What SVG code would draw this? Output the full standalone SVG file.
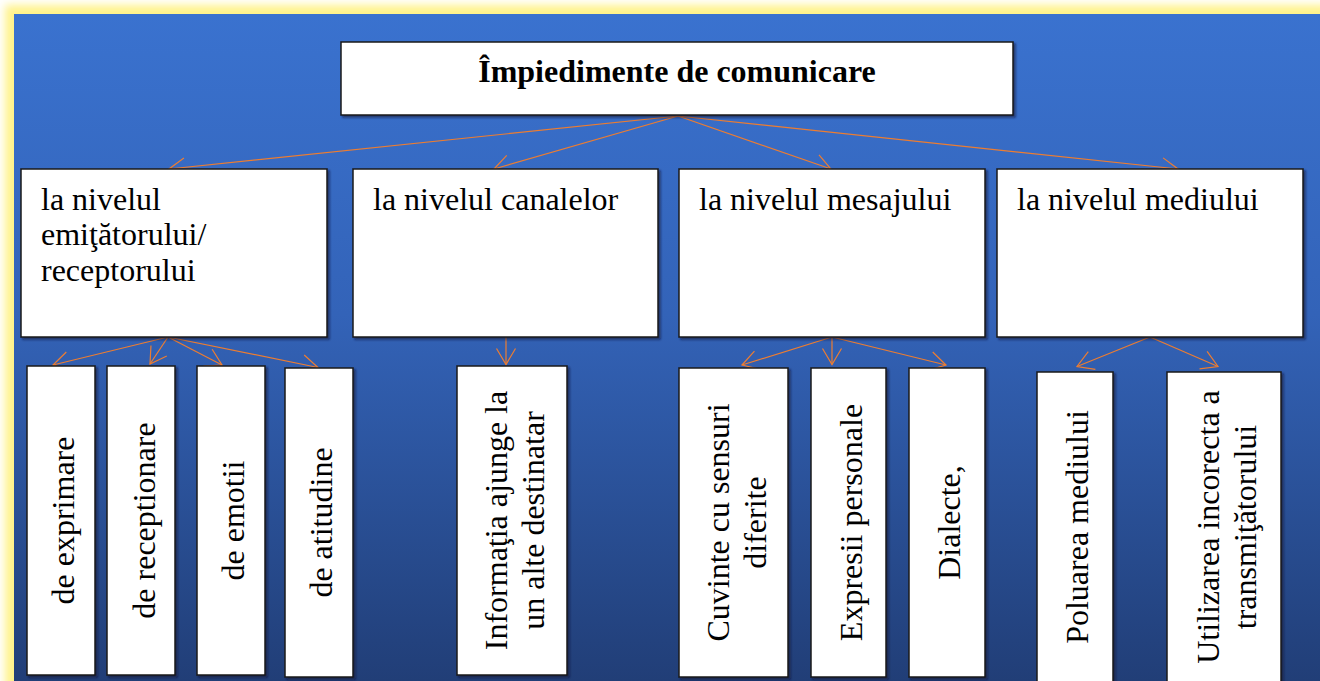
<svg xmlns="http://www.w3.org/2000/svg" width="1320" height="681" viewBox="0 0 1320 681">
<defs>
<linearGradient id="bg" x1="0" y1="14" x2="0" y2="681" gradientUnits="userSpaceOnUse">
<stop offset="0" stop-color="#3A72CF"/>
<stop offset="0.45" stop-color="#3363B8"/>
<stop offset="1" stop-color="#213E77"/>
</linearGradient>
<filter id="glow" x="-0.1" y="-0.1" width="1.2" height="1.2">
<feGaussianBlur stdDeviation="4"/>
</filter>
<filter id="sh" x="-0.1" y="-0.1" width="1.3" height="1.3">
<feDropShadow dx="2" dy="2" stdDeviation="1" flood-color="#0a1530" flood-opacity="0.6"/>
</filter>
<marker id="arr" markerUnits="userSpaceOnUse" viewBox="-20 -12 22 24" refX="0" refY="0" markerWidth="22" markerHeight="24" orient="auto">
<path d="M-16,-9.5 L0,0 L-16,9.5" fill="none" stroke="#ED7D31" stroke-width="1.2"/>
</marker>
</defs>
<style>
.box{fill:#FFFFFF;stroke:#1A1A1A;stroke-width:1.5;filter:url(#sh)}
.t{font-family:"Liberation Serif","Times New Roman",serif;font-size:32px;fill:#000}
.vt{font-family:"Liberation Serif","Times New Roman",serif;font-size:32px;fill:#000;text-anchor:middle}
.title{font-family:"Liberation Serif","Times New Roman",serif;font-size:32px;font-weight:bold;fill:#000;text-anchor:middle}
.c{fill:none;stroke:#ED7D31;stroke-width:1.2;marker-end:url(#arr)}
</style>
<rect x="0" y="0" width="1320" height="681" fill="#FFFFFF"/>
<rect x="5" y="5" width="1400" height="800" fill="#FFF38A" filter="url(#glow)"/>
<rect x="14" y="14" width="1306" height="667" fill="url(#bg)"/>

<g id="connectors">
<line class="c" x1="678" y1="116" x2="169" y2="169"/>
<line class="c" x1="678" y1="116" x2="494" y2="169"/>
<line class="c" x1="678" y1="116" x2="831" y2="169"/>
<line class="c" x1="678" y1="116" x2="1178" y2="169"/>
<line class="c" x1="168" y1="337" x2="53" y2="365"/>
<line class="c" x1="168" y1="337" x2="150" y2="364"/>
<line class="c" x1="168" y1="337" x2="222" y2="365"/>
<line class="c" x1="168" y1="337" x2="318" y2="367.5"/>
<line class="c" x1="506" y1="337" x2="506" y2="364.5"/>
<line class="c" x1="832" y1="337" x2="742" y2="365"/>
<line class="c" x1="832" y1="337" x2="832" y2="364.5"/>
<line class="c" x1="832" y1="337" x2="946" y2="365"/>
<line class="c" x1="1150" y1="337" x2="1077" y2="366.5"/>
<line class="c" x1="1150" y1="337" x2="1218" y2="366.5"/>
</g>

<g id="title">
<rect class="box" x="341" y="42" width="672" height="73"/>
<text class="title" x="677" y="82">Împiedimente de comunicare</text>
</g>

<g id="n-emitator">
<rect class="box" x="21" y="169" width="306" height="168"/>
<text class="t" x="41" y="209.5">la nivelul</text>
<text class="t" x="41" y="245">emiţătorului/</text>
<text class="t" x="41" y="280.5">receptorului</text>
</g>
<g id="n-canale">
<rect class="box" x="353" y="169" width="305" height="168"/>
<text class="t" x="373" y="209.5">la nivelul canalelor</text>
</g>
<g id="n-mesaj">
<rect class="box" x="679" y="169" width="306" height="168"/>
<text class="t" x="699" y="209.5">la nivelul mesajului</text>
</g>
<g id="n-mediu">
<rect class="box" x="997" y="169" width="306" height="168"/>
<text class="t" x="1017" y="209.5">la nivelul mediului</text>
</g>

<g id="n-exprimare">
<rect class="box" x="27" y="366" width="68" height="309"/>
<text class="vt" transform="translate(74,520.5) rotate(-90)">de exprimare</text>
</g>
<g id="n-receptionare">
<rect class="box" x="107" y="366" width="68" height="309"/>
<text class="vt" transform="translate(155,520.5) rotate(-90)">de receptionare</text>
</g>
<g id="n-emotii">
<rect class="box" x="197" y="366" width="68" height="309"/>
<text class="vt" transform="translate(244,520.5) rotate(-90)">de emotii</text>
</g>
<g id="n-atitudine">
<rect class="box" x="285" y="368" width="68" height="309"/>
<text class="vt" transform="translate(332,522.5) rotate(-90)">de atitudine</text>
</g>
<g id="n-informatia">
<rect class="box" x="457" y="366" width="110" height="309"/>
<text class="vt" transform="translate(506.5,520.5) rotate(-90)"><tspan x="0" y="0">Informaţia ajunge la</tspan><tspan x="0" dy="37">un alte destinatar</tspan></text>
</g>
<g id="n-cuvinte">
<rect class="box" x="679" y="368" width="109" height="309"/>
<text class="vt" transform="translate(728.5,522.5) rotate(-90)"><tspan x="0" y="0">Cuvinte cu sensuri</tspan><tspan x="0" dy="37">diferite</tspan></text>
</g>
<g id="n-expresii">
<rect class="box" x="811" y="368" width="75" height="309"/>
<text class="vt" transform="translate(861.5,522.5) rotate(-90)">Expresii personale</text>
</g>
<g id="n-dialecte">
<rect class="box" x="909" y="368" width="76" height="309"/>
<text class="vt" transform="translate(960,522.5) rotate(-90)">Dialecte,</text>
</g>
<g id="n-poluarea">
<rect class="box" x="1037" y="372" width="76" height="310"/>
<text class="vt" transform="translate(1088,527) rotate(-90)">Poluarea mediului</text>
</g>
<g id="n-utilizarea">
<rect class="box" x="1167" y="372" width="114" height="310"/>
<text class="vt" transform="translate(1218.5,527) rotate(-90)"><tspan x="0" y="0">Utilizarea incorecta a</tspan><tspan x="0" dy="37">transmiţătorului</tspan></text>
</g>
</svg>
